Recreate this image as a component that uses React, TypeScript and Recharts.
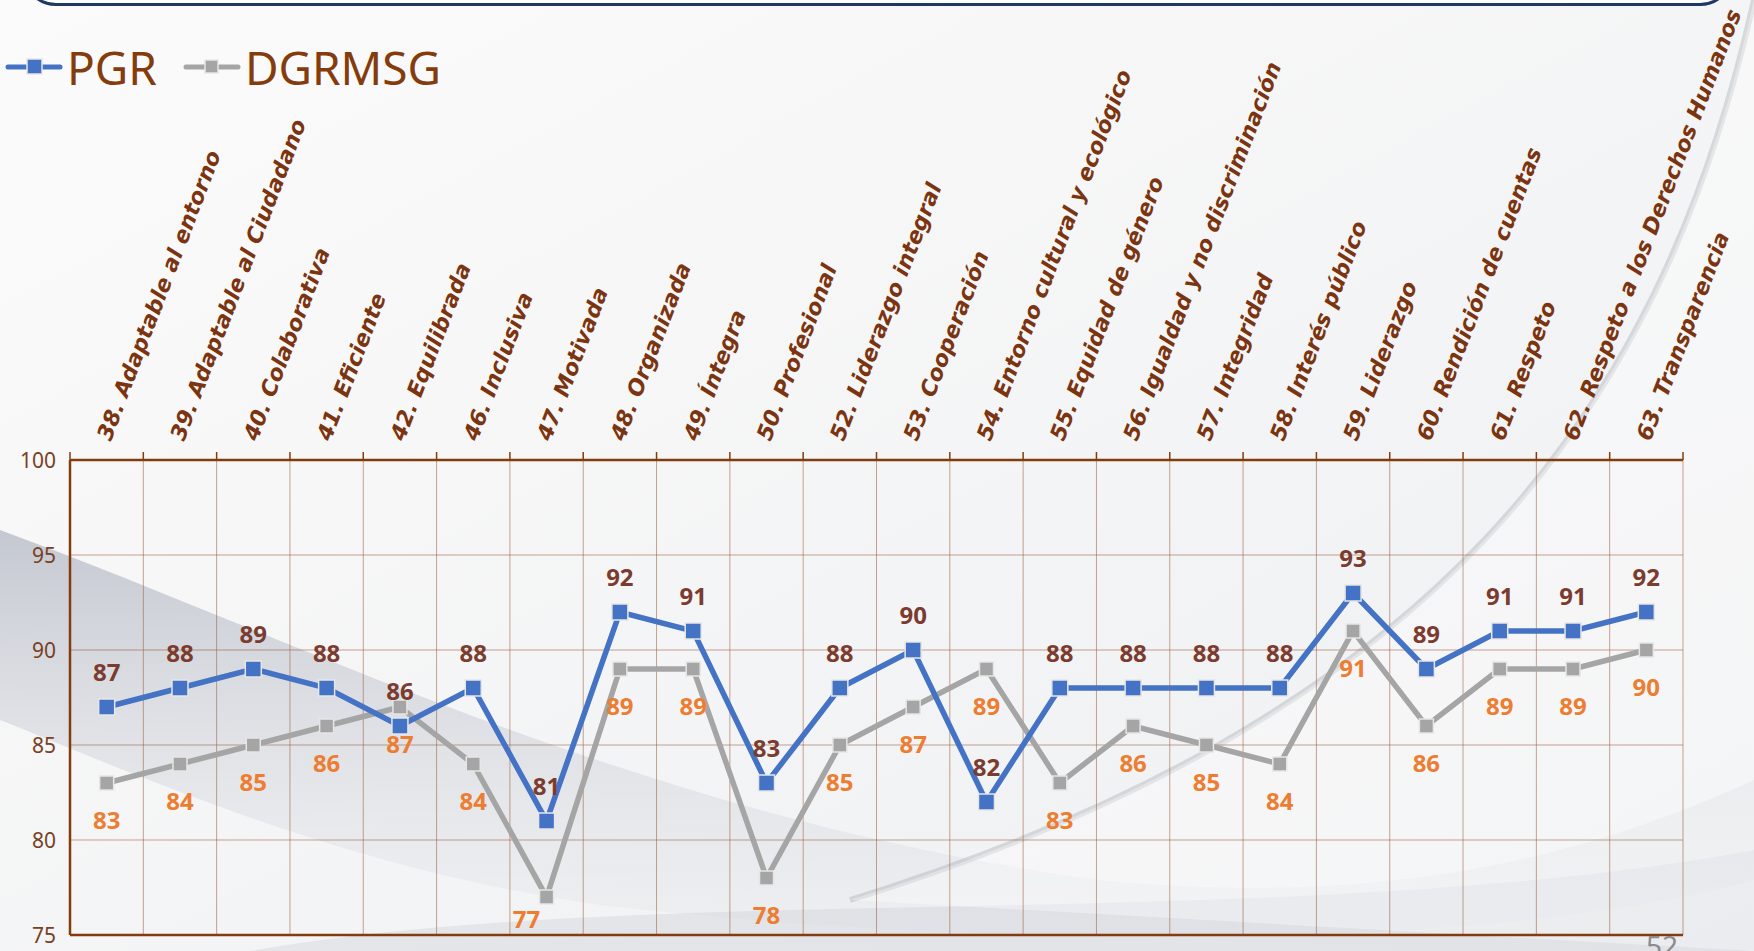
import { LineChart, Line, XAxis, YAxis, CartesianGrid, LabelList } from "recharts";

const categories = [
  "38. Adaptable al entorno",
  "39. Adaptable al Ciudadano",
  "40. Colaborativa",
  "41. Eficiente",
  "42. Equilibrada",
  "46. Inclusiva",
  "47. Motivada",
  "48. Organizada",
  "49. Íntegra",
  "50. Profesional",
  "52. Liderazgo integral",
  "53. Cooperación",
  "54. Entorno cultural y ecológico",
  "55. Equidad de género",
  "56. Igualdad y no discriminación",
  "57. Integridad",
  "58. Interés público",
  "59. Liderazgo",
  "60. Rendición de cuentas",
  "61. Respeto",
  "62. Respeto a los Derechos Humanos",
  "63. Transparencia",
];

const pgr = [87, 88, 89, 88, 86, 88, 81, 92, 91, 83, 88, 90, 82, 88, 88, 88, 88, 93, 89, 91, 91, 92];
const dgrmsg = [83, 84, 85, 86, 87, 84, 77, 89, 89, 78, 85, 87, 89, 83, 86, 85, 84, 91, 86, 89, 89, 90];
const yTicks = [75, 80, 85, 90, 95, 100];

const data = categories.map((name, i) => ({ name, pgr: pgr[i], dgrmsg: dgrmsg[i] }));

const W = 1754;
const H = 951;
const PLOT_LEFT = 70;
const PLOT_TOP = 460;
const PLOT_RIGHT = 1683;
const PLOT_BOTTOM = 936;
const STEP = (PLOT_RIGHT - PLOT_LEFT) / categories.length;

const BROWN = "#843C0C";
const BLUE = "#4472C4";
const GREY = "#A5A5A5";

const CategoryTick = (props: any) => {
  const { x, payload, index } = props;
  return (
    <g>
      {index === 0 && (
        <line x1={x - STEP / 2} x2={x - STEP / 2} y1={PLOT_TOP} y2={PLOT_TOP - 8} stroke={BROWN} strokeWidth={1.5} />
      )}
      <line x1={x + STEP / 2} x2={x + STEP / 2} y1={PLOT_TOP} y2={PLOT_TOP - 8} stroke={BROWN} strokeWidth={1.5} />
      <text
        transform={`translate(${x + 4}, ${PLOT_TOP - 18}) rotate(-69)`}
        textAnchor="start"
        fontFamily="DejaVu Sans"
        fontWeight="bold"
        fontStyle="italic"
        fontSize={22}
        fill="#7B3410"
      >
        {payload.value}
      </text>
    </g>
  );
};

const YTick = (props: any) => {
  const { x, y, payload } = props;
  return (
    <text x={x - 6} y={y} textAnchor="end" dominantBaseline="central" fontFamily="Noto Sans" fontSize={21} fill="#7A4022">
      {payload.value}
    </text>
  );
};

const squareDot = (size: number, fill: string) => (props: any) => {
  const { cx, cy, index } = props;
  return (
    <rect
      key={index}
      x={cx - size / 2}
      y={cy - size / 2}
      width={size}
      height={size}
      fill={fill}
      stroke="#E6E6E6"
      strokeWidth={1.5}
    />
  );
};

const valueLabel = (dy: number, color: string) => (props: any) => {
  const { x, y, value, index } = props;
  let lx = x;
  let ly = y + dy;
  // keep labels that would fall under the bottom axis inside the plot
  if (ly > PLOT_BOTTOM - 18) {
    ly = PLOT_BOTTOM - 18;
    lx = x - 20;
  }
  return (
    <text
      key={index}
      x={lx}
      y={ly}
      textAnchor="middle"
      dominantBaseline="central"
      fontFamily="Noto Sans"
      fontWeight="bold"
      fontSize={24}
      fill={color}
    >
      {value}
    </text>
  );
};

function Background() {
  return (
    <svg width={W} height={H} style={{ position: "absolute", left: 0, top: 0 }}>
      <defs>
        <linearGradient id="bg" x1="0" y1="0" x2="1" y2="1">
          <stop offset="0" stopColor="#fbfbfb" />
          <stop offset="1" stopColor="#eeeff1" />
        </linearGradient>
        <linearGradient id="swoosh" x1="0" y1="0" x2="0" y2="1">
          <stop offset="0" stopColor="#b3b8c3" stopOpacity="0.75" />
          <stop offset="1" stopColor="#e4e6ea" stopOpacity="0.3" />
        </linearGradient>
      </defs>
      <rect width={W} height={H} fill="url(#bg)" />
      <path
        d="M0,530 C300,640 650,820 1100,880 C1400,910 1600,850 1754,780 L1754,880 C1500,951 1000,951 600,905 C350,870 150,780 0,720 Z"
        fill="url(#swoosh)"
      />
      <path
        d="M250,951 C650,880 1300,935 1754,850 L1754,951 Z"
        fill="#c9ccd3"
        opacity={0.35}
      />
      <path
        d="M1754,0 C1660,420 1430,720 850,900"
        fill="none"
        stroke="#9fa3aa"
        strokeWidth={6}
        opacity={0.35}
      />
      <path d="M1754,0 C1660,420 1430,720 850,900 L1754,951 Z" fill="#ffffff" opacity={0.35} />
    </svg>
  );
}

export default function App() {
  return (
    <div style={{ position: "absolute", left: 0, top: 0, width: W, height: H, overflow: "hidden" }}>
      <Background />
      <div
        style={{
          position: "absolute",
          left: 22,
          top: -70,
          width: 1706,
          height: 70,
          border: "3px solid #1F3864",
          borderRadius: 34,
          background: "#ffffff",
        }}
      />
      <div
        style={{
          position: "absolute",
          left: 0,
          top: 36,
          display: "flex",
          alignItems: "center",
          fontFamily: "Noto Sans",
          fontSize: 46,
          color: BROWN,
        }}
      >
        <svg width={58} height={20} style={{ marginLeft: 5 }}>
          <line x1={3} x2={55} y1={10} y2={10} stroke={BLUE} strokeWidth={5} strokeLinecap="round" />
          <rect x={22} y={2} width={15} height={15} fill={BLUE} stroke="#E6E6E6" strokeWidth={1.5} />
        </svg>
        <span style={{ marginLeft: 4 }}>PGR</span>
        <svg width={58} height={20} style={{ marginLeft: 26 }}>
          <line x1={3} x2={55} y1={10} y2={10} stroke={GREY} strokeWidth={5} strokeLinecap="round" />
          <rect x={22} y={3} width={13} height={13} fill={GREY} stroke="#E6E6E6" strokeWidth={1.5} />
        </svg>
        <span style={{ marginLeft: 4 }}>DGRMSG</span>
      </div>
      <div style={{ position: "absolute", left: 0, top: 0 }}>
        <LineChart
          width={W}
          height={H}
          data={data}
          margin={{ top: PLOT_TOP - 40, left: PLOT_LEFT - 60, right: W - PLOT_RIGHT, bottom: H - PLOT_BOTTOM }}
        >
          <CartesianGrid
            stroke="#9B5A3C"
            strokeOpacity={0.55}
            strokeWidth={1}
            verticalCoordinatesGenerator={({ offset }: any) =>
              categories.map((_, i) => offset.left + ((i + 1) * offset.width) / categories.length)
            }
          />
          <XAxis
            dataKey="name"
            orientation="top"
            scale="band"
            height={40}
            interval={0}
            tickLine={false}
            axisLine={{ stroke: BROWN, strokeWidth: 2.5 }}
            tick={<CategoryTick />}
          />
          <XAxis
            xAxisId="bottom"
            dataKey="name"
            orientation="bottom"
            scale="band"
            height={1}
            tick={false}
            tickLine={false}
            axisLine={{ stroke: BROWN, strokeWidth: 2.5 }}
          />
          <YAxis
            domain={[75, 100]}
            ticks={yTicks}
            width={60}
            tickLine={false}
            axisLine={{ stroke: BROWN, strokeWidth: 2.5 }}
            tick={<YTick />}
          />
          <Line
            dataKey="dgrmsg"
            stroke={GREY}
            strokeWidth={5.5}
            dot={squareDot(14, GREY)}
            activeDot={false}
            isAnimationActive={false}
          >
            <LabelList dataKey="dgrmsg" content={valueLabel(36, "#ED7D31")} />
          </Line>
          <Line
            dataKey="pgr"
            stroke={BLUE}
            strokeWidth={5.5}
            dot={squareDot(16, BLUE)}
            activeDot={false}
            isAnimationActive={false}
          >
            <LabelList dataKey="pgr" content={valueLabel(-36, "#7B3B2E")} />
          </Line>
        </LineChart>
      </div>
      <div
        style={{
          position: "absolute",
          left: 1646,
          top: 926,
          fontFamily: "Noto Sans",
          fontSize: 28,
          color: "#8c8c8c",
        }}
      >
        52
      </div>
    </div>
  );
}
